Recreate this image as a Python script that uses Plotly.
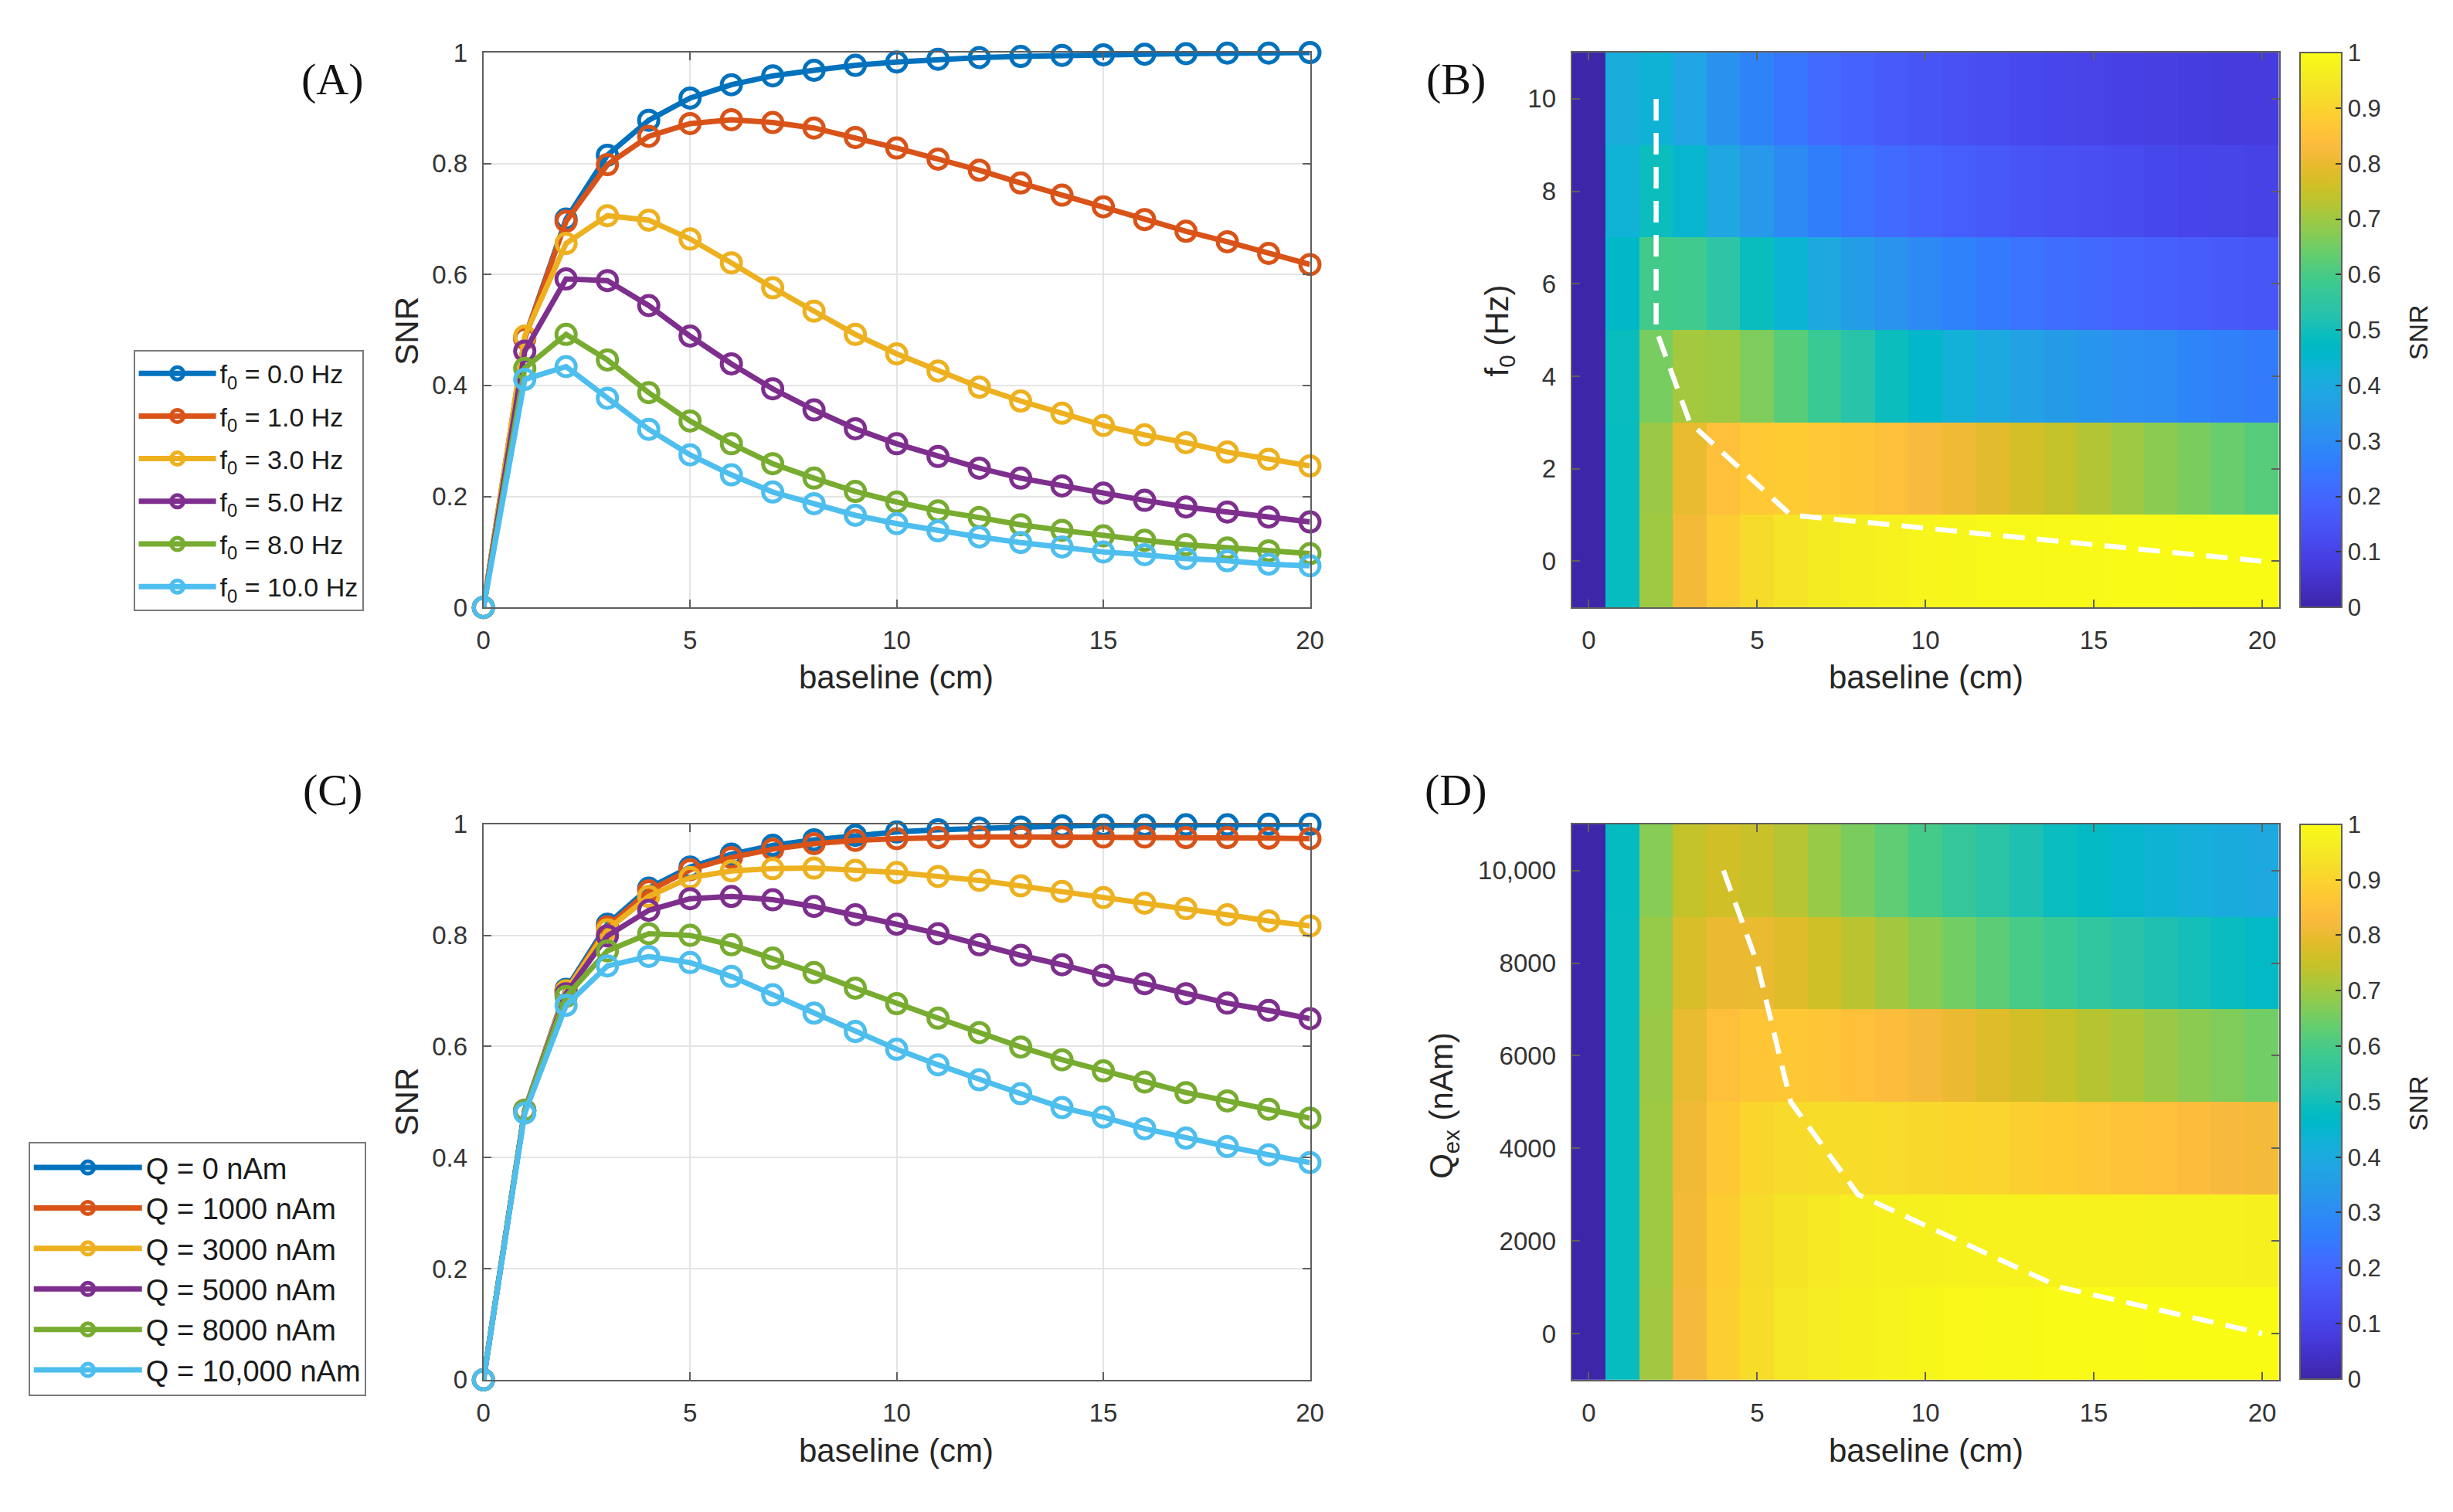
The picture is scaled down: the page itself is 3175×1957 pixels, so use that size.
import plotly.graph_objects as go

# ---------------- data ----------------
baseline = [0, 1, 2, 3, 4, 5, 6, 7, 8, 9, 10, 11, 12, 13, 14, 15, 16, 17, 18, 19, 20]

# Panel A: SNR vs baseline for several f0
snr_f0_0 = [0, 0.485, 0.700, 0.815, 0.878, 0.918, 0.942, 0.958, 0.968, 0.977, 0.983, 0.988, 0.991, 0.993, 0.995, 0.996, 0.997, 0.998, 0.999, 0.999, 1.000]
snr_f0_1 = [0, 0.485, 0.696, 0.798, 0.849, 0.872, 0.879, 0.874, 0.864, 0.847, 0.828, 0.808, 0.788, 0.765, 0.743, 0.722, 0.699, 0.678, 0.659, 0.638, 0.618]
snr_f0_3 = [0, 0.489, 0.656, 0.706, 0.698, 0.664, 0.621, 0.576, 0.534, 0.492, 0.457, 0.426, 0.397, 0.372, 0.350, 0.328, 0.311, 0.297, 0.280, 0.267, 0.255]
snr_f0_5 = [0, 0.462, 0.592, 0.589, 0.544, 0.489, 0.439, 0.394, 0.356, 0.322, 0.295, 0.272, 0.251, 0.233, 0.219, 0.206, 0.193, 0.181, 0.172, 0.163, 0.154]
snr_f0_8 = [0, 0.431, 0.492, 0.446, 0.387, 0.336, 0.295, 0.259, 0.233, 0.209, 0.190, 0.174, 0.162, 0.149, 0.139, 0.129, 0.121, 0.113, 0.107, 0.102, 0.097]
snr_f0_10 = [0, 0.411, 0.434, 0.377, 0.321, 0.275, 0.239, 0.208, 0.187, 0.166, 0.151, 0.138, 0.127, 0.117, 0.109, 0.100, 0.095, 0.088, 0.084, 0.078, 0.075]
f0_names = ["f<sub>0</sub> = 0.0 Hz", "f<sub>0</sub> = 1.0 Hz", "f<sub>0</sub> = 3.0 Hz",
            "f<sub>0</sub> = 5.0 Hz", "f<sub>0</sub> = 8.0 Hz", "f<sub>0</sub> = 10.0 Hz"]

# Panel C: SNR vs baseline for several Q
snr_q_0 = [0, 0.485, 0.703, 0.820, 0.885, 0.923, 0.946, 0.962, 0.972, 0.980, 0.986, 0.990, 0.993, 0.995, 0.997, 0.998, 0.998, 0.999, 0.999, 1.000, 1.000]
snr_q_1000 = [0, 0.485, 0.700, 0.815, 0.880, 0.918, 0.940, 0.955, 0.965, 0.971, 0.974, 0.976, 0.977, 0.977, 0.977, 0.977, 0.977, 0.976, 0.976, 0.975, 0.974]
snr_q_3000 = [0, 0.485, 0.700, 0.810, 0.870, 0.904, 0.916, 0.920, 0.921, 0.917, 0.913, 0.906, 0.899, 0.889, 0.879, 0.868, 0.858, 0.848, 0.837, 0.826, 0.817]
snr_q_5000 = [0, 0.485, 0.695, 0.799, 0.845, 0.866, 0.870, 0.864, 0.852, 0.837, 0.820, 0.803, 0.783, 0.764, 0.747, 0.728, 0.713, 0.695, 0.678, 0.665, 0.650]
snr_q_8000 = [0, 0.485, 0.690, 0.772, 0.803, 0.800, 0.783, 0.759, 0.733, 0.705, 0.677, 0.651, 0.625, 0.599, 0.576, 0.556, 0.536, 0.517, 0.502, 0.487, 0.471]
snr_q_10000 = [0, 0.480, 0.674, 0.745, 0.762, 0.751, 0.726, 0.693, 0.660, 0.627, 0.595, 0.567, 0.540, 0.515, 0.490, 0.473, 0.452, 0.435, 0.420, 0.405, 0.391]
q_names = ["Q = 0 nAm", "Q = 1000 nAm", "Q = 3000 nAm", "Q = 5000 nAm", "Q = 8000 nAm", "Q = 10,000 nAm"]

# Heatmap rows (B and D)
f0_rows = [0, 2, 4, 6, 8, 10]
f0_ticktext = ["0", "2", "4", "6", "8", "10"]
q_rows = [0, 2000, 4000, 6000, 8000, 10000]
q_ticktext = ["0", "2000", "4000", "6000", "8000", "10,000"]

# optimal-baseline dashed curves
opt_f0_x = [2, 2, 2, 3, 6, 20]
opt_f0_y = [10, 8, 5, 3, 1, 0]
opt_q_x = [4, 5, 6, 8, 14, 20]
opt_q_y = [10000, 8000, 5000, 3000, 1000, 0]

snr_ticks = [0, 0.2, 0.4, 0.6, 0.8, 1]
snr_ticktext = ["0", "0.2", "0.4", "0.6", "0.8", "1"]
x_ticks = [0, 5, 10, 15, 20]

# ---------------- style ----------------
W, H = 3175, 1957
SANS = "Liberation Sans, Arial, Helvetica, sans-serif"
SERIF = "Liberation Serif, Times New Roman, serif"
colors = ["#0072BD", "#D95319", "#EDB120", "#7E2F8E", "#77AC30", "#4DBEEE"]

parula_rgb = [
 [0.2422, 0.1504, 0.6603], [0.2504, 0.1650, 0.7076], [0.2578, 0.1818, 0.7511], [0.2647, 0.1978, 0.7952],
 [0.2706, 0.2147, 0.8364], [0.2751, 0.2342, 0.8710], [0.2783, 0.2559, 0.8991], [0.2803, 0.2782, 0.9221],
 [0.2813, 0.3006, 0.9414], [0.2810, 0.3228, 0.9579], [0.2795, 0.3447, 0.9717], [0.2760, 0.3667, 0.9829],
 [0.2699, 0.3892, 0.9906], [0.2602, 0.4123, 0.9952], [0.2440, 0.4358, 0.9988], [0.2206, 0.4603, 0.9973],
 [0.1963, 0.4847, 0.9892], [0.1834, 0.5074, 0.9798], [0.1786, 0.5289, 0.9682], [0.1764, 0.5499, 0.9520],
 [0.1687, 0.5703, 0.9359], [0.1540, 0.5902, 0.9218], [0.1460, 0.6091, 0.9079], [0.1380, 0.6276, 0.8973],
 [0.1248, 0.6459, 0.8883], [0.1113, 0.6635, 0.8763], [0.0952, 0.6798, 0.8598], [0.0689, 0.6948, 0.8394],
 [0.0297, 0.7082, 0.8163], [0.0036, 0.7203, 0.7917], [0.0067, 0.7312, 0.7660], [0.0433, 0.7411, 0.7394],
 [0.0964, 0.7500, 0.7120], [0.1408, 0.7584, 0.6842], [0.1717, 0.7670, 0.6554], [0.1938, 0.7758, 0.6251],
 [0.2161, 0.7843, 0.5923], [0.2470, 0.7918, 0.5567], [0.2906, 0.7973, 0.5188], [0.3406, 0.8008, 0.4789],
 [0.3909, 0.8029, 0.4354], [0.4456, 0.8024, 0.3909], [0.5044, 0.7993, 0.3480], [0.5616, 0.7942, 0.3045],
 [0.6174, 0.7876, 0.2612], [0.6720, 0.7793, 0.2227], [0.7242, 0.7698, 0.1910], [0.7738, 0.7598, 0.1646],
 [0.8203, 0.7498, 0.1535], [0.8634, 0.7406, 0.1596], [0.9035, 0.7330, 0.1774], [0.9393, 0.7288, 0.2100],
 [0.9728, 0.7298, 0.2394], [0.9956, 0.7434, 0.2371], [0.9970, 0.7659, 0.2199], [0.9952, 0.7893, 0.2028],
 [0.9892, 0.8136, 0.1885], [0.9786, 0.8386, 0.1766], [0.9676, 0.8639, 0.1643], [0.9610, 0.8890, 0.1537],
 [0.9597, 0.9135, 0.1423], [0.9628, 0.9373, 0.1265], [0.9691, 0.9606, 0.1064], [0.9769, 0.9839, 0.0805]]
n = len(parula_rgb)
parula = [[i / (n - 1), "rgb(%d,%d,%d)" % tuple(round(c * 255) for c in rgb)] for i, rgb in enumerate(parula_rgb)]

def px_x(p):
    return p / W

def px_y(p):
    return 1 - p / H

fig = go.Figure()

LINE_W = 7
MK_SIZE = 25
MK_LW = 5

# ---------------- panel A ----------------
for i, (name, ys) in enumerate(zip(f0_names, [snr_f0_0, snr_f0_1, snr_f0_3, snr_f0_5, snr_f0_8, snr_f0_10])):
    fig.add_trace(go.Scatter(
        x=baseline, y=ys, name=name, mode="lines+markers", xaxis="x", yaxis="y",
        line=dict(color=colors[i], width=LINE_W),
        marker=dict(symbol="circle-open", size=MK_SIZE, color=colors[i], line=dict(width=MK_LW, color=colors[i])),
        cliponaxis=False, legend="legend", legendgroup="a%d" % i))

# ---------------- panel C ----------------
for i, (name, ys) in enumerate(zip(q_names, [snr_q_0, snr_q_1000, snr_q_3000, snr_q_5000, snr_q_8000, snr_q_10000])):
    fig.add_trace(go.Scatter(
        x=baseline, y=ys, name=name, mode="lines+markers", xaxis="x3", yaxis="y3",
        line=dict(color=colors[i], width=LINE_W),
        marker=dict(symbol="circle-open", size=MK_SIZE, color=colors[i], line=dict(width=MK_LW, color=colors[i])),
        cliponaxis=False, legend="legend2", legendgroup="c%d" % i))

# ---------------- panel B ----------------
fig.add_trace(go.Heatmap(
    x=baseline, y=f0_rows, z=[snr_f0_0, snr_f0_1, snr_f0_3, snr_f0_5, snr_f0_8, snr_f0_10],
    coloraxis="coloraxis", xaxis="x2", yaxis="y2", showlegend=False))
fig.add_trace(go.Scatter(
    x=opt_f0_x, y=opt_f0_y, mode="lines", xaxis="x2", yaxis="y2", showlegend=False,
    line=dict(color="white", width=6.5, dash="28px,16px")))

# ---------------- panel D ----------------
fig.add_trace(go.Heatmap(
    x=baseline, y=q_rows, z=[snr_q_0, snr_q_1000, snr_q_3000, snr_q_5000, snr_q_8000, snr_q_10000],
    coloraxis="coloraxis2", xaxis="x4", yaxis="y4", showlegend=False))
fig.add_trace(go.Scatter(
    x=opt_q_x, y=opt_q_y, mode="lines", xaxis="x4", yaxis="y4", showlegend=False,
    line=dict(color="white", width=6.5, dash="28px,16px")))

# ---------------- axes ----------------
AX_COLOR = "#5f5f5f"
common = dict(showline=True, linecolor=AX_COLOR, linewidth=2, mirror="ticks", ticks="inside",
              ticklen=10, tickwidth=2, tickcolor=AX_COLOR, zeroline=False,
              tickfont=dict(size=33, color="#333333", family=SANS), ticklabelstandoff=12)
grid = dict(showgrid=True, gridcolor="#e4e4e4", gridwidth=2)
nogrid = dict(showgrid=False)

dom_x_left = [px_x(622), px_x(1701)]
dom_x_right = [px_x(2043), px_x(2966)]
dom_y_top = [px_y(783), px_y(51)]
dom_y_bot = [px_y(1802), px_y(1069)]

fig.update_layout(
    xaxis=dict(domain=dom_x_left, range=[0, 20], anchor="y", tickvals=x_ticks, **grid, **common),
    yaxis=dict(domain=dom_y_top, range=[0, 1], anchor="x", tickvals=snr_ticks, ticktext=snr_ticktext, **grid, **common),
    xaxis2=dict(domain=dom_x_right, range=[-0.5, 20.5], anchor="y2", tickvals=x_ticks, **nogrid, **common),
    yaxis2=dict(domain=dom_y_top, range=[-1, 11], anchor="x2", tickvals=f0_rows, ticktext=f0_ticktext, **nogrid, **common),
    xaxis3=dict(domain=dom_x_left, range=[0, 20], anchor="y3", tickvals=x_ticks, **grid, **common),
    yaxis3=dict(domain=dom_y_bot, range=[0, 1], anchor="x3", tickvals=snr_ticks, ticktext=snr_ticktext, **grid, **common),
    xaxis4=dict(domain=dom_x_right, range=[-0.5, 20.5], anchor="y4", tickvals=x_ticks, **nogrid, **common),
    yaxis4=dict(domain=dom_y_bot, range=[-1000, 11000], anchor="x4", tickvals=q_rows, ticktext=q_ticktext, **nogrid, **common),
)

def cbar(yc):
    return dict(x=px_x(2993), xanchor="left", y=yc, yanchor="middle", len=732 / H, lenmode="fraction",
                thickness=54, thicknessmode="pixels", outlinewidth=2, outlinecolor=AX_COLOR,
                ticks="inside", ticklen=9, tickwidth=2, tickcolor="#333333", tick0=0, dtick=0.1,
                tickfont=dict(size=31, color="#333333", family=SANS), xpad=0, ypad=0)

fig.update_layout(
    coloraxis=dict(cmin=0, cmax=1, colorscale=parula, colorbar=cbar(px_y(417))),
    coloraxis2=dict(cmin=0, cmax=1, colorscale=parula, colorbar=cbar(px_y(1435))),
)

# ---------------- legends ----------------
fig.update_layout(
    legend=dict(x=px_x(165), y=px_y(443), xanchor="left", yanchor="top", bgcolor="white",
                bordercolor="#7a7a7a", borderwidth=2, itemwidth=100, tracegroupgap=8,
                font=dict(size=34, color="#1a1a1a", family=SANS)),
    legend2=dict(x=px_x(28), y=px_y(1488), xanchor="left", yanchor="top", bgcolor="white",
                 bordercolor="#7a7a7a", borderwidth=2, itemwidth=140, tracegroupgap=0,
                 font=dict(size=38, color="#1a1a1a", family=SANS)),
)

# ---------------- text labels ----------------
ann = []
def text(x, y, s, size, angle=0, family=SANS, color="#262626"):
    ann.append(dict(x=px_x(x), y=px_y(y), xref="paper", yref="paper", text=s, showarrow=False,
                    textangle=angle, xanchor="center", yanchor="middle",
                    font=dict(size=size, family=family, color=color)))

text(425, 86, "(A)", 58, family=SERIF, color="#111111")
text(1892, 86, "(B)", 58, family=SERIF, color="#111111")
text(425, 1024, "(C)", 58, family=SERIF, color="#111111")
text(1892, 1024, "(D)", 58, family=SERIF, color="#111111")

text(522, 418, "SNR", 42, angle=-90)
text(522, 1435, "SNR", 42, angle=-90)
text(1948, 418, "f<sub>0</sub> (Hz)", 42, angle=-90)
text(1876, 1440, "Q<sub>ex</sub> (nAm)", 42, angle=-90)
text(1161, 875, "baseline (cm)", 42)
text(1161, 1895, "baseline (cm)", 42)
text(2505, 875, "baseline (cm)", 42)
text(2505, 1895, "baseline (cm)", 42)
text(3148, 420, "SNR", 34, angle=-90)
text(3148, 1437, "SNR", 34, angle=-90)

fig.update_layout(annotations=ann, width=W, height=H, autosize=False,
                  margin=dict(l=0, r=0, t=0, b=0), paper_bgcolor="white", plot_bgcolor="white",
                  font=dict(family=SANS))

fig.write_html("out.html")
